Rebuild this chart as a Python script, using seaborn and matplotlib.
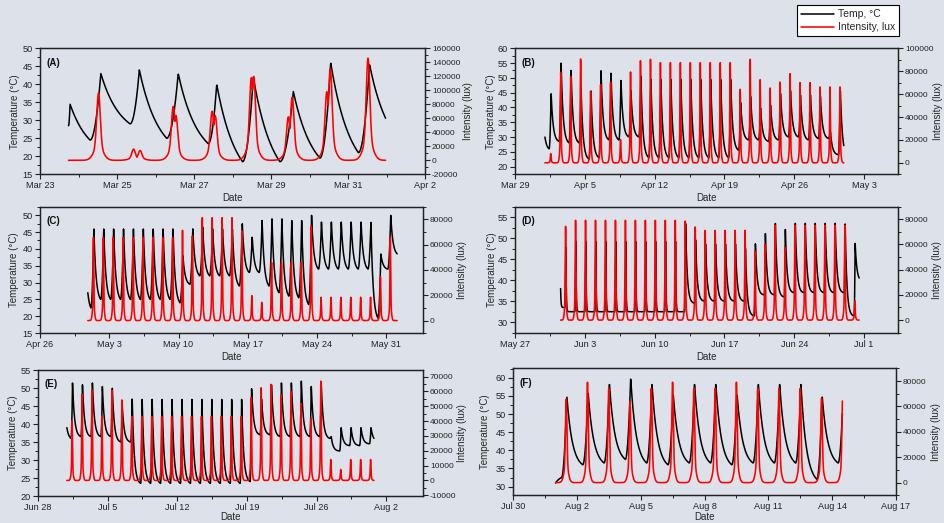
import numpy as np
import pandas as pd
import matplotlib
matplotlib.use("Agg")
import matplotlib.pyplot as plt
import matplotlib.dates as mdates
from matplotlib.ticker import FixedLocator, AutoMinorLocator
from matplotlib.lines import Line2D
import seaborn as sns

# ======================= DATA =======================
# Days are counted from each panel's origin date.
# ---- Panel A ----
A_origin = "2021-03-23"
A_start = (0.74, 28.5)
A_end = (8.98, 30.5)
A_trough_day = [0.74, 1.30, 2.34, 3.29, 4.37, 5.26, 6.23, 7.27, 8.27]
A_trough_temp = [28.5, 24.5, 29.0, 25.0, 23.5, 18.5, 18.5, 19.5, 21.0]
A_peak_day = [0.78, 1.58, 2.58, 3.59, 4.59, 5.54, 6.58, 7.55, 8.56]
A_peak_temp = [34.5, 43.0, 44.0, 43.0, 40.0, 42.0, 38.0, 46.0, 45.5]
A_lux_day = [1.52, 2.43, 2.60, 3.46, 3.53, 4.47, 4.55, 5.49, 5.55, 6.45, 6.55,
             7.45, 7.54, 8.30, 8.52]
A_lux = [96000, 16000, 14000, 77000, 64000, 70000, 64000, 118000, 120000,
         62000, 90000, 98000, 131000, 3000, 146000]

# ---- Panel B (daily, Apr 1 .. Apr 30) ----
B_origin = "2021-03-29"
B_first = 3
B_start = (3.0, 30.0)
B_end = (32.97, 27.0)
B_peak_temp = [45, 55.5, 53, 47, 46, 53, 52, 49.5, 46, 51, 50] + [50] * 8 + \
              [42, 44, 40, 41, 45, 46, 44.5, 44.5, 44, 32, 46]
B_trough_temp = [26, 28.5, 28, 28, 22.5, 23, 29, 29, 30, 30, 23] + [23] * 8 + \
                [25.5, 29, 29, 28.5, 29, 30, 30, 29, 29.5, 29.5, 24]
B_lux = [8000, 79000, 75800, 91000, 62700, 68500, 70500, 20400, 79600, 89500,
         90700] + [87800] * 8 + [64400, 90700, 72900, 65600, 70800, 78100,
                                 70300, 70300, 66500, 66500, 66500]

# ---- Panel C (daily, May 1 .. May 31) ----
C_origin = "2021-04-26"
C_first = 5
C_start = (4.83, 27.0)
C_end = (36.1, 38.5)
C_peak_temp = [46] * 9 + [38] + [46, 46.5, 46, 46, 46] + \
              [47.5, 43.5, 48.5, 49, 49, 48.5, 48.5, 50] + [48] * 6 + [38.5, 50]
C_trough_temp = [22.5] + [25] * 8 + [24, 29.5, 32, 32, 32, 32, 29, 33, 33, 29,
                                     27, 26, 25.5, 23.5] + [34] * 6 + [19.5, 34]
C_lux = [65600] * 9 + [71300, 66900] + [81300] * 4 + [70800, 19700, 14400] + \
        [45900] * 4 + [74700] + [18400] * 6 + [34600, 65600]

# ---- Panel D (daily, Jun 1 .. Jun 30) ----
D_origin = "2021-05-27"
D_first = 5
D_start = (4.57, 38.0)
D_end = (34.51, 40.5)
D_peak_temp = [48.5] + [50] * 11 + [54, 50, 49, 49, 49, 49, 48, 49, 51.5, 54,
                                    52.5] + [54] * 6 + [49]
D_trough_temp = [33.5] + [32.5] * 12 + [34.5] + [35] * 5 + \
                [31.5, 36.5, 36.5, 36] + [37] * 6 + [31.5]
D_lux = [74400] + [79200] * 11 + [78600, 73900] + [71200] * 5 + \
        [54600, 60200, 75200, 57500] + [75200] * 6 + [15000]

# ---- Panel E (daily, Jul 1 .. Jul 31) ----
E_origin = "2021-06-28"
E_first = 3
E_start = (2.9, 39.0)
E_end = (33.77, 36.0)
E_peak_temp = [51.5, 51, 51.5, 50.5, 50, 45] + [47] * 12 + \
              [50, 47, 51, 51.5, 51.5, 52, 50.5, 51.5] + [36.5, 39, 39, 39, 39]
E_trough_temp = [36, 36.5, 36.5, 36.5, 36.5, 35, 35] + [23.5] * 11 + \
                [24, 37, 37, 36.5, 36.5, 36.5, 36.5, 36.5] + [36, 32.5, 34, 34, 34.5]
E_lux = [40300, 58200, 61100, 43600, 61100, 54400] + [43200] * 12 + \
        [55900, 62600, 64900, 58000, 60000, 52000, 42000, 67100] + \
        [14100, 7400, 14100, 14100, 14100]

# ---- Panel F (daily, Aug 1 .. Aug 14) ----
F_origin = "2021-07-30"
F_first = 2
F_start = (2.0, 31.0)
F_end = (15.48, 50.0)
F_peak_temp = [55, 56, 58.5, 60, 58.5, 55.5, 58.5, 58.5, 55.5, 58.5, 58.5, 58.5, 55, 58]
F_trough_temp = [32.5, 36, 36.5, 37.5, 36.5, 36, 36.5, 36.5, 36, 36.5, 36.5, 36.5, 32, 36.5]
F_lux = [65600, 79000, 74200, 64300, 74200, 79000, 74200, 74200, 79000, 74200,
         74200, 74200, 66400, 74200]

# Tick labels (dates)
A_xticks = ["2021-03-23", "2021-03-25", "2021-03-27", "2021-03-29", "2021-03-31", "2021-04-02"]
B_xticks = ["2021-03-29", "2021-04-05", "2021-04-12", "2021-04-19", "2021-04-26", "2021-05-03"]
C_xticks = ["2021-04-26", "2021-05-03", "2021-05-10", "2021-05-17", "2021-05-24", "2021-05-31"]
D_xticks = ["2021-05-27", "2021-06-03", "2021-06-10", "2021-06-17", "2021-06-24", "2021-07-01"]
E_xticks = ["2021-06-28", "2021-07-05", "2021-07-12", "2021-07-19", "2021-07-26", "2021-08-02"]
F_xticks = ["2021-07-30", "2021-08-02", "2021-08-05", "2021-08-08", "2021-08-11",
            "2021-08-14", "2021-08-17"]

# ======================= helpers =======================
STEP = 1 / 144.0


def temp_series(start, end, trough_day, trough_val, peak_day, peak_val, tau, rise_pow=2.0):
    ts, vs = start
    te, ve = end
    nodes = [(ts, vs)]
    segs = []
    for i in range(len(peak_day)):
        tprev = tau[i - 1] if i > 0 else tau[0]
        if trough_day[i] > nodes[-1][0] + 1e-9:
            nodes.append((trough_day[i], trough_val[i]))
            segs.append(("decay", tprev))
        nodes.append((peak_day[i], peak_val[i]))
        segs.append(("rise", None))
    if te > nodes[-1][0]:
        nodes.append((te, ve))
        segs.append(("decay", tau[-1]))
    t = np.arange(ts, te + 1e-9, STEP)
    v = np.full_like(t, np.nan)
    for k, (kind, tk) in enumerate(segs):
        t1, v1 = nodes[k]
        t2, v2 = nodes[k + 1]
        m = (t >= t1) & (t <= t2)
        L = t2 - t1
        s = t[m] - t1
        if kind == "rise":
            u = s / L
            v[m] = v1 + (v2 - v1) * u ** rise_pow
        else:
            f = (np.exp(-s / tk) - np.exp(-L / tk)) / (1 - np.exp(-L / tk))
            v[m] = v2 + (v1 - v2) * f
    return t, v


def lux_series(t, event_day, event_val, s1, s2):
    out = np.zeros_like(t)
    for d, L in zip(event_day, event_val):
        dd = t - d
        out = np.maximum(out, L * (0.8 * np.exp(-0.5 * (dd / s1) ** 2)
                                   + 0.2 * np.exp(-0.5 * (dd / s2) ** 2)))
    return out


def daily(first, n, phase):
    return [first + i + phase for i in range(n)]


def to_dates(origin, t):
    return pd.Timestamp(origin) + pd.to_timedelta(t, unit="D")


def build_daily(first, start, end, peaks, troughs, lux, phase, lag, rise, tau):
    n = len(peaks)
    pk = [d + lag for d in daily(first, n, phase)]
    tr = [d - rise for d in pk]
    t, v = temp_series(start, end, tr, troughs, pk, peaks, tau)
    l = lux_series(t, daily(first, n, phase), lux, 0.035, 0.1)
    return t, v, l


panels = []
tA, vA = temp_series(A_start, A_end, A_trough_day, A_trough_temp, A_peak_day, A_peak_temp,
                     [0.5] * len(A_peak_day))
lA = lux_series(tA, A_lux_day, A_lux, 0.045, 0.12)
# pos = (left px, top px, width px, height px); lab_px = (left ylabel x, right ylabel x, xlabel y)
panels.append(dict(lab="(A)", origin=A_origin, t=tA, v=vA, l=lA, xt=A_xticks, days=10.0,
                   yl=(15, 50), yt=np.arange(15, 51, 5), y2l=(-20000, 160000),
                   y2t=np.arange(-20000, 160001, 20000),
                   pos=(40, 48.3, 385, 126), lab_px=(15, 468, 198)))

tB, vB, lB = build_daily(B_first, B_start, B_end, B_peak_temp, B_trough_temp, B_lux,
                         0.58, 0.04, 0.2, [0.2] * len(B_peak_temp))
panels.append(dict(lab="(B)", origin=B_origin, t=tB, v=vB, l=lB, xt=B_xticks, days=38.4,
                   yl=(17.4, 60), yt=np.arange(20, 61, 5), y2l=(-10000, 100000),
                   y2t=np.arange(0, 100001, 20000), pos=(515, 48.3, 383, 126),
                   lab_px=(491, 938, 198)))
tC, vC, lC = build_daily(C_first, C_start, C_end, C_peak_temp, C_trough_temp, C_lux,
                         0.40, 0.04, 0.3, [0.22] * len(C_peak_temp))
panels.append(dict(lab="(C)", origin=C_origin, t=tC, v=vC, l=lC, xt=C_xticks, days=38.7,
                   yl=(15, 52.5), yt=np.arange(15, 51, 5), y2l=(-10000, 90000),
                   y2t=np.arange(0, 80001, 20000), pos=(40, 206.7, 383, 126.5),
                   lab_px=(14, 462, 357)))
tD, vD, lD = build_daily(D_first, D_start, D_end, D_peak_temp, D_trough_temp, D_lux,
                         0.07, 0.03, 0.1, [0.04] * 12 + [0.17] * 18)
panels.append(dict(lab="(D)", origin=D_origin, t=tD, v=vD, l=lD, xt=D_xticks, days=38.4,
                   yl=(27.5, 57.5), yt=np.arange(30, 56, 5), y2l=(-10000, 90000),
                   y2t=np.arange(0, 80001, 20000), pos=(515, 206.7, 383, 126),
                   lab_px=(492, 937, 357)))
tE, vE, lE = build_daily(E_first, E_start, E_end, E_peak_temp, E_trough_temp, E_lux,
                         0.43, 0.04, 0.15, [0.2] * len(E_peak_temp))
panels.append(dict(lab="(E)", origin=E_origin, t=tE, v=vE, l=lE, xt=E_xticks, days=38.7,
                   yl=(20, 55), yt=np.arange(20, 56, 5), y2l=(-10500, 74500),
                   y2t=np.arange(-10000, 70001, 10000), pos=(38, 370, 385, 126),
                   lab_px=(13, 462, 517)))
tF, vF, lF = build_daily(F_first, F_start, F_end, F_peak_temp, F_trough_temp, F_lux,
                         0.50, 0.03, 0.25, [0.26] * len(F_peak_temp))
panels.append(dict(lab="(F)", origin=F_origin, t=tF, v=vF, l=lF, xt=F_xticks, days=18.0,
                   yl=(27.6, 62.6), yt=np.arange(30, 61, 5), y2l=(-10000, 90000),
                   y2t=np.arange(0, 80001, 20000), pos=(513, 368.3, 383, 127),
                   lab_px=(485, 936, 517)))

# ======================= plotting =======================
sns.set_theme(style="ticks")
plt.rcParams["font.family"] = ["Liberation Sans", "DejaVu Sans"]
BG = "#dde2ea"
FS_TICK = 6.6
FS_TICK_R = 6.0
FS_LAB = 7.0
plt.rcParams.update({
    "axes.unicode_minus": False,
    "axes.edgecolor": "#222222", "axes.linewidth": 0.9,
    "xtick.color": "#222222", "ytick.color": "#222222",
    "xtick.labelcolor": "#222222", "ytick.labelcolor": "#222222",
    "xtick.major.size": 3.5, "ytick.major.size": 3.5,
    "xtick.minor.size": 2, "ytick.minor.size": 2,
    "xtick.major.width": 0.8, "ytick.major.width": 0.8,
    "xtick.minor.width": 0.7, "ytick.minor.width": 0.7,
    "xtick.direction": "out", "ytick.direction": "out",
})

W, H = 944, 523
fig = plt.figure(figsize=(W / 100, H / 100), dpi=100, facecolor=BG)

for p in panels:
    x0, ytop, w, h = p["pos"]
    ax = fig.add_axes([x0 / W, 1 - (ytop + h) / H, w / W, h / H])
    ax.set_facecolor("none")
    df = pd.DataFrame({"Date": to_dates(p["origin"], p["t"]), "temp": p["v"], "lux": p["l"]})
    sns.lineplot(data=df, x="Date", y="temp", ax=ax, color="black", lw=1.1,
                 estimator=None, sort=False)
    ax2 = ax.twinx()
    ax2.patch.set_visible(False)
    sns.lineplot(data=df, x="Date", y="lux", ax=ax2, color="#ff0000", lw=1.15,
                 estimator=None, sort=False)

    x_start = pd.Timestamp(p["xt"][0])
    ax.set_xlim(mdates.date2num(x_start), mdates.date2num(x_start) + p["days"])
    ticks = mdates.date2num(pd.to_datetime(p["xt"]))
    ax.xaxis.set_major_locator(FixedLocator(ticks))
    ax.xaxis.set_minor_locator(FixedLocator((ticks[:-1] + ticks[1:]) / 2))
    ax.xaxis.set_major_formatter(mdates.DateFormatter("%b %-d"))

    ax.set_ylim(*p["yl"])
    ax.yaxis.set_major_locator(FixedLocator(p["yt"]))
    ax.yaxis.set_minor_locator(AutoMinorLocator(2))
    ax2.set_ylim(*p["y2l"])
    ax2.yaxis.set_major_locator(FixedLocator(p["y2t"]))
    ax2.yaxis.set_minor_locator(AutoMinorLocator(2))

    ax.tick_params(axis="both", which="both", labelsize=FS_TICK, pad=1.5)
    ax2.tick_params(axis="both", which="both", labelsize=FS_TICK_R, pad=1.5)

    lx, rx, by = p["lab_px"]
    ax.set_xlabel("Date", fontsize=FS_LAB)
    ax.set_ylabel("Temperature (°C)", fontsize=FS_LAB)
    ax2.set_ylabel("Intensity (lux)", fontsize=FS_LAB)
    ax.yaxis.label.set_va("center")
    ax2.yaxis.label.set_va("center")
    ax.xaxis.label.set_va("center")
    ax.yaxis.set_label_coords((lx - x0) / w, 0.5)
    ax2.yaxis.set_label_coords((rx - x0) / w, 0.5)
    ax.xaxis.set_label_coords(0.5, -(by - (ytop + h)) / h)

    for a in (ax, ax2):
        for s in a.spines.values():
            s.set_visible(True)
            s.set_color("#222222")
            s.set_linewidth(0.9)
    ax.text(0.018, 0.885, p["lab"], transform=ax.transAxes, fontsize=FS_LAB,
            fontweight="bold", ha="left", va="center", color="#111111")

handles = [Line2D([], [], color="black", lw=1.1), Line2D([], [], color="#ff0000", lw=1.15)]
leg = fig.legend(handles, ["Temp, °C", "Intensity, lux"], loc="upper right",
                 bbox_to_anchor=(899 / W, 1 - 5 / H), fontsize=7.5, frameon=True,
                 fancybox=False, framealpha=1, edgecolor="black", handlelength=3.2,
                 handletextpad=0.3, borderpad=0.4, labelspacing=0.3, borderaxespad=0)
leg.get_frame().set_linewidth(0.8)

fig.savefig("out.png", dpi=100, facecolor=BG)
